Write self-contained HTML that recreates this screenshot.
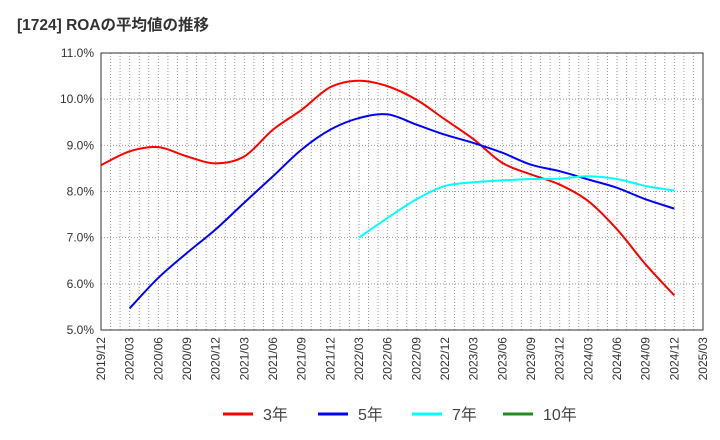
<!DOCTYPE html>
<html><head><meta charset="utf-8"><style>
body{margin:0;background:#fff;}
svg{display:block;font-family:"Liberation Sans","Noto Sans CJK JP",sans-serif;}
</style></head><body>
<svg id="c" width="720" height="440">
<text x="17" y="30" font-size="15.5" font-weight="bold" fill="#333">[1724]  ROAの平均値の推移</text>
<g id="grid"></g><g id="axes"></g><g id="series"></g><g id="legend"></g>
</svg>
<script>
const xLabels=["2019/12","2020/03","2020/06","2020/09","2020/12","2021/03","2021/06","2021/09","2021/12","2022/03","2022/06","2022/09","2022/12","2023/03","2023/06","2023/09","2023/12","2024/03","2024/06","2024/09","2024/12","2025/03"];
const yTicks=[5,6,7,8,9,10,11];
const s3=[8.57,8.87,8.96,8.76,8.61,8.76,9.34,9.77,10.26,10.40,10.28,9.99,9.56,9.13,8.62,8.37,8.15,7.79,7.18,6.42,5.75];
const s5=[null,5.47,6.13,6.67,7.18,7.76,8.33,8.91,9.34,9.59,9.67,9.45,9.23,9.05,8.84,8.58,8.44,8.26,8.08,7.83,7.63];
const s7=[null,null,null,null,null,null,null,null,null,7.00,7.43,7.83,8.12,8.20,8.24,8.27,8.28,8.33,8.27,8.12,8.02];
const s10=[];
const L=101,R=703,T=53,B=330;
const x=i=>L+(R-L)*i/(xLabels.length-1);
const y=v=>B-(v-5)/6*(B-T);
const NS="http://www.w3.org/2000/svg";
function mk(tag,attrs,parent){const e=document.createElementNS(NS,tag);for(const k in attrs)e.setAttribute(k,attrs[k]);parent.appendChild(e);return e;}
const grid=document.getElementById('grid'),axes=document.getElementById('axes'),ser=document.getElementById('series'),leg=document.getElementById('legend');
for(let m=1;m<63;m++){const xx=L+(R-L)*m/63;const l=mk('line',{x1:xx,x2:xx,y1:T,y2:B,stroke:'#999','stroke-dasharray':'1,2','stroke-width':1},grid);

}
yTicks.forEach(v=>{if(v>5&&v<11){const l=mk('line',{x1:L,x2:R,y1:y(v),y2:y(v),stroke:'#999','stroke-dasharray':'1,2'},grid);

}
const t=mk('text',{x:L-7,y:y(v)+4,'text-anchor':'end','font-size':12,fill:'#333'},axes);t.textContent=v.toFixed(1)+'%';

});
const fr=mk('rect',{x:L,y:T,width:R-L,height:B-T,fill:'none',stroke:'#333'},axes);


xLabels.forEach((s,i)=>{const t=mk('text',{transform:`translate(${x(i)+4},${B+7}) rotate(-90)`,'text-anchor':'end','font-size':12,fill:'#333'},axes);t.textContent=s;

});
function path(data){const p=[];data.forEach((v,i)=>{if(v!=null)p.push([x(i),y(v)]);});if(p.length<2)return '';
let d=`M${p[0][0]},${p[0][1]}`;for(let i=0;i<p.length-1;i++){const p0=p[i-1]||p[i],p1=p[i],p2=p[i+1],p3=p[i+2]||p2;
d+=` C${p1[0]+(p2[0]-p0[0])/6},${p1[1]+(p2[1]-p0[1])/6} ${p2[0]-(p3[0]-p1[0])/6},${p2[1]-(p3[1]-p1[1])/6} ${p2[0]},${p2[1]}`;}return d;}
const series=[[s3,'#ff0000','3年','series-3yr'],[s5,'#0000ff','5年','series-5yr'],[s7,'#00ffff','7年','series-7yr'],[s10,'#228b22','10年','series-10yr']];
series.forEach(([d,c,n,nm])=>{const pd=path(d);if(pd){const e=mk('path',{d:pd,fill:'none',stroke:c,'stroke-width':2},ser);

}});
const lx=[223,318,412,503];
series.forEach(([d,c,n,nm],i)=>{const g=mk('g',{},leg);


mk('line',{x1:lx[i],x2:lx[i]+30,y1:414,y2:414,stroke:c,'stroke-width':3},g);
const t=mk('text',{x:lx[i]+40,y:420,'font-size':16,fill:'#444'},g);t.textContent=n;});
</script>
</body></html>
